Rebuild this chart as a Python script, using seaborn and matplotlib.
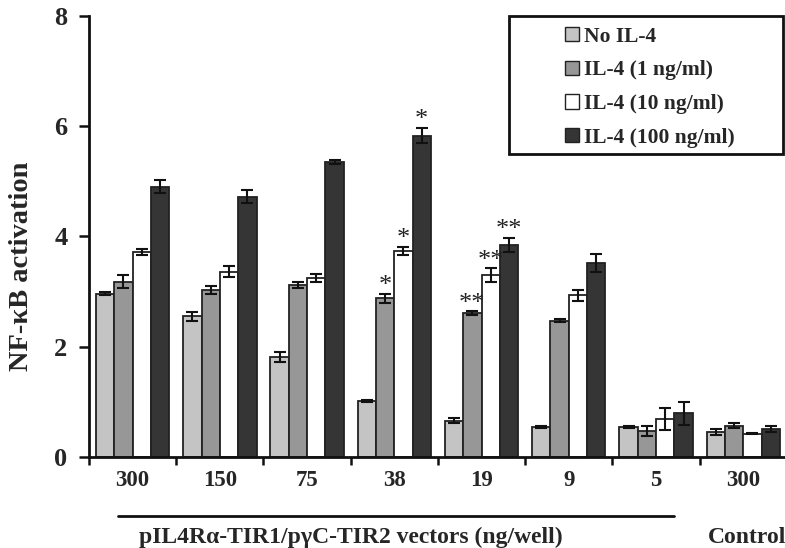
import matplotlib
matplotlib.use("Agg")
import matplotlib.pyplot as plt
import matplotlib.transforms as mtransforms
from matplotlib.patches import Patch, Rectangle
import seaborn as sns
import pandas as pd

groups = ["300", "150", "75", "38", "19", "9", "5", "300 "]
group_labels = ["300", "150", "75", "38", "19", "9", "5", "300"]
series = ["No IL-4", "IL-4 (1 ng/ml)", "IL-4 (10 ng/ml)", "IL-4 (100 ng/ml)"]
no_il4 = [2.96, 2.55, 1.82, 1.02, 0.66, 0.54, 0.54, 0.45]
il4_1 = [3.18, 3.03, 3.12, 2.88, 2.61, 2.47, 0.48, 0.57]
il4_10 = [3.72, 3.36, 3.25, 3.74, 3.30, 2.93, 0.69, 0.42]
il4_100 = [4.90, 4.72, 5.35, 5.83, 3.85, 3.52, 0.79, 0.51]
err_no = [0.03, 0.08, 0.09, 0.02, 0.04, 0.02, 0.02, 0.05]
err_1 = [0.12, 0.08, 0.06, 0.08, 0.03, 0.03, 0.09, 0.04]
err_10 = [0.06, 0.10, 0.07, 0.07, 0.12, 0.10, 0.20, 0.01]
err_100 = [0.12, 0.12, 0.04, 0.14, 0.13, 0.17, 0.21, 0.06]
# significance marks: (group index, series index, label)
marks = [(3, 1, "*"), (3, 2, "*"), (3, 3, "*"),
         (4, 1, "**"), (4, 2, "**"), (4, 3, "**")]
colors = ["#c4c4c4", "#979797", "#ffffff", "#353535"]

values = [no_il4, il4_1, il4_10, il4_100]
errors = [err_no, err_1, err_10, err_100]
rows = []
for s, vals in zip(series, values):
    for g, v in zip(groups, vals):
        rows.append({"group": g, "series": s, "value": v})
df = pd.DataFrame(rows)

sns.set_style("ticks")
plt.rcParams["font.family"] = ["Liberation Serif", "DejaVu Serif"]
plt.rcParams["font.weight"] = "bold"

fig = plt.figure(figsize=(7.85, 5.48), dpi=100)
ax = fig.add_axes([0.1134, 0.166, 0.889, 0.805])

sns.barplot(data=df, x="group", y="value", hue="series", order=groups,
            hue_order=series, palette=colors, width=0.84, gap=0,
            errorbar=None, edgecolor="#222222", linewidth=1.3,
            saturation=1, legend=False, ax=ax)

bar_conts = list(ax.containers)
centers = [[b.get_x() + b.get_width() / 2 for b in cont] for cont in bar_conts]

for si in range(len(series)):
    for gi in range(len(groups)):
        ax.errorbar(centers[si][gi], values[si][gi], yerr=errors[si][gi],
                    fmt="none", ecolor="#111111", elinewidth=1.5,
                    capsize=4.5, capthick=1.5, zorder=5)

for gi, si, lab in marks:
    xc = centers[si][gi]
    y = values[si][gi] + errors[si][gi] + 0.03
    ax.text(xc, y, lab, ha="center", va="baseline", fontsize=19,
            fontweight="normal", color="#222222")

ax.set_xlim(-0.5, 7.5)
ax.set_ylim(0, 8)
ax.set_yticks([0, 2, 4, 6, 8])
ax.set_yticklabels(["0", "2", "4", "6", "8"], fontsize=19, fontweight="bold")
ax.set_xticks([i - 0.5 for i in range(8)])
ax.set_xticklabels([])
ax.set_xticks(range(8), minor=True)
ax.set_xticklabels(group_labels, minor=True, fontsize=16.5, fontweight="bold")
ax.tick_params(axis="x", which="minor", length=0, pad=9)
ax.tick_params(axis="x", which="major", length=5.5, width=1.8,
               direction="out", color="#111111")
ax.tick_params(axis="y", which="major", length=7.5, width=1.8,
               direction="out", color="#111111", pad=8)
ax.set_xlabel("")
ax.set_ylabel("NF-\u03baB activation", fontsize=20.5, fontweight="bold")
ax.yaxis.set_label_coords(-0.079, 0.433)
for sp in ["top", "right"]:
    ax.spines[sp].set_visible(False)
for sp in ["left", "bottom"]:
    ax.spines[sp].set_linewidth(2)
    ax.spines[sp].set_color("#111111")

trans = mtransforms.blended_transform_factory(ax.transData, ax.transAxes)
ax.plot([-0.168, 6.21], [-0.134, -0.134], transform=trans, color="#111111",
        lw=2, clip_on=False)
ax.text(2.5, -0.183, "pIL4R\u03b1-TIR1/p\u03b3C-TIR2 vectors (ng/well)",
        transform=trans, ha="center", va="center", fontsize=17,
        fontweight="bold")
ax.text(7.04, -0.183, "Control", transform=trans, ha="center", va="center",
        fontsize=17, fontweight="bold")

# legend box
ax.add_patch(Rectangle((0.602, 0.687), 0.392, 0.313, transform=ax.transAxes,
                       facecolor="white", edgecolor="#111111", linewidth=2,
                       clip_on=False, zorder=6))
handles = [Patch(facecolor=c, edgecolor="#222222", linewidth=1) for c in colors]
leg = ax.legend(handles, series, loc="upper left", bbox_to_anchor=(0.676, 0.985),
                frameon=False, prop={"size": 15.5, "weight": "bold"},
                handlelength=0.65, handleheight=0.65, handletextpad=0.25,
                borderpad=0.2, labelspacing=0.63, borderaxespad=0.0)
leg.set_zorder(7)

fig.savefig("out.png", dpi=100)
